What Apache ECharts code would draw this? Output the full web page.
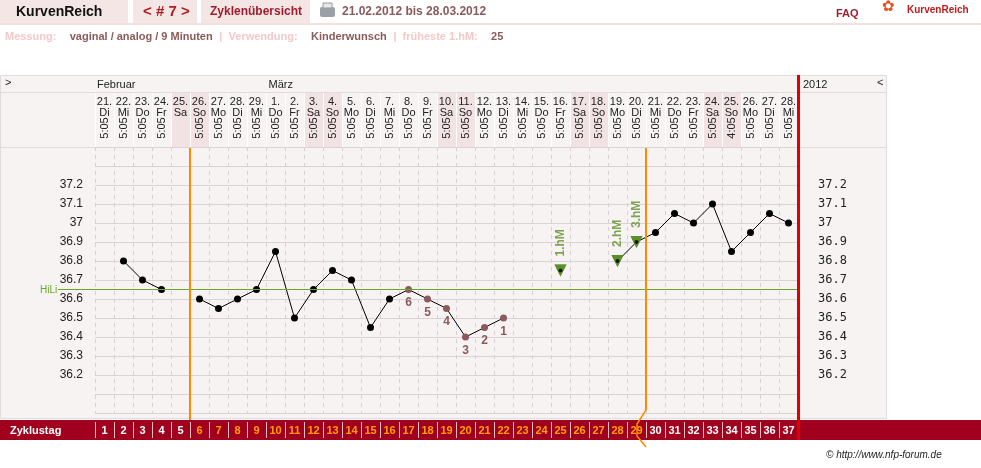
<!DOCTYPE html>
<html><head><meta charset="utf-8">
<script src="https://cdn.jsdelivr.net/npm/echarts@6/dist/echarts.min.js"></script>
<style>html,body{margin:0;padding:0;background:#fff}#c{width:981px;height:468px}</style>
</head><body><div id="c"></div>
<script>
const cycleDays = Array.from({length:37},(_,i)=>String(i+1));
const dates = ['21.','22.','23.','24.','25.','26.','27.','28.','29.','1.','2.','3.','4.','5.','6.','7.','8.','9.','10.','11.','12.','13.','14.','15.','16.','17.','18.','19.','20.','21.','22.','23.','24.','25.','26.','27.','28.'];
const weekdays = ['Di','Mi','Do','Fr','Sa','So','Mo','Di','Mi','Do','Fr','Sa','So','Mo','Di','Mi','Do','Fr','Sa','So','Mo','Di','Mi','Do','Fr','Sa','So','Mo','Di','Mi','Do','Fr','Sa','So','Mo','Di','Mi'];
const times = ['5:05','5:05','5:05','5:05','','5:05','5:05','5:05','5:05','5:05','5:05','5:05','5:05','5:05','5:05','5:05','5:05','5:05','5:05','5:05','5:05','5:05','5:05','5:05','5:05','5:05','5:05','5:05','5:05','5:05','5:05','5:05','5:05','4:05','5:05','5:05','5:05'];
const temps = [null,36.8,36.7,36.65,null,36.6,36.55,36.6,36.65,36.85,36.5,36.65,36.75,36.7,36.45,36.6,36.65,36.6,36.55,36.4,36.45,36.5,null,null,36.75,null,null,36.8,36.9,36.95,37.05,37.0,37.1,36.85,36.95,37.05,37.0];
const countLabels = {17:'6',18:'5',19:'4',20:'3',21:'2',22:'1'};
const hmLabels = {25:'1.hM',28:'2.hM',29:'3.hM'};
const yTicks = [36.2,36.3,36.4,36.5,36.6,36.7,36.8,36.9,37,37.1,37.2];
const coverline = 36.65;
const shiftDays = [6,30];

const F = 'Liberation Sans, Arial, sans-serif';
const brown = '#8b5a5a', green = '#5b8f2a';
const chart = echarts.init(document.getElementById('c'));

const mainData = temps.map((v,i)=>{
  const d = i+1;
  if (v==null) return null;
  if (countLabels[d]) return {value:v, itemStyle:{color:brown}, label:{show:true,position:'bottom',distance:4,formatter:countLabels[d],color:brown,fontWeight:'bold',fontSize:12,fontFamily:F}};
  if (hmLabels[d]) return {value:v, symbol:'triangle', symbolRotate:180, symbolSize:12, itemStyle:{color:green}};
  return v;
});
const hmData = temps.map((v,i)=> hmLabels[i+1] ? {value:v, label:{show:true,formatter:hmLabels[i+1]}} : null);
const dotData = temps.map((v,i)=> hmLabels[i+1] ? v : null);

const fmtY = v => yTicks.some(t=>Math.abs(t-v)<1e-6) ? (Math.round(v*10)/10).toString() : '';

chart.setOption({
  animation:false,
  grid:{left:95,right:183,top:147,bottom:55},
  xAxis:[{type:'category',data:cycleDays,boundaryGap:true,axisLine:{show:false},axisTick:{show:false},axisLabel:{show:false},
    splitLine:{show:true,interval:0,lineStyle:{color:'#d8d0d0',type:[4,4]}}}],
  yAxis:[
    {type:'value',min:36.0,max:37.4,interval:0.1,axisLine:{show:false},axisTick:{show:false},
     axisLabel:{formatter:fmtY,color:'#222',fontFamily:F,fontSize:12,margin:12},
     splitLine:{lineStyle:{color:'#dcd4d4'}}},
    {type:'value',position:'right',min:36.0,max:37.4,interval:0.1,axisLine:{show:false},axisTick:{show:false},
     axisLabel:{formatter:fmtY,color:'#222',fontFamily:'DejaVu Sans Mono, monospace',fontSize:12,margin:20},splitLine:{show:false}}
  ],
  series:[
    {type:'line',data:mainData,connectNulls:false,symbol:'circle',symbolSize:7,itemStyle:{color:'#000'},lineStyle:{color:'#000',width:1},z:3,
     markLine:{silent:true,symbol:'none',label:{show:false},lineStyle:{color:'#6aa62a',width:1,type:'solid'},data:[{yAxis:coverline}]}},
    {type:'scatter',data:hmData,symbol:'triangle',symbolRotate:180,symbolSize:12,itemStyle:{color:green},z:4,
     label:{position:'top',rotate:90,distance:8,color:green,fontWeight:'bold',fontSize:12,fontFamily:F,align:'left',verticalAlign:'middle'}},
    {type:'scatter',data:dotData,symbol:'circle',symbolSize:4,itemStyle:{color:'#000'},z:5}
  ]
});

function cx(i){return chart.convertToPixel({xAxisIndex:0}, i);}
const colW = cx(1)-cx(0);
const left0 = cx(0)-colW/2, rightEnd = cx(36)+colW/2;
const g = [];
// background panel
g.push({type:'rect',shape:{x:0.5,y:75.5,width:886,height:343},style:{fill:'#f8f3f3',stroke:'#ddd'},z:-10});
g.push({type:'line',shape:{x1:0,y1:92.5,x2:887,y2:92.5},style:{stroke:'#ddd'},z:-9});
g.push({type:'line',shape:{x1:0,y1:147.5,x2:887,y2:147.5},style:{stroke:'#ddd'},z:-9});
// weekends shading & header texts
for(let i=0;i<37;i++){
  const x=cx(i);
  if(weekdays[i]==='Sa'||weekdays[i]==='So') g.push({type:'rect',shape:{x:x-colW/2,y:93,width:colW,height:54},style:{fill:'#f1e2e3'},z:-8});
  g.push({type:'line',shape:{x1:x-colW/2+0.5,y1:93,x2:x-colW/2+0.5,y2:147},style:{stroke:'#fff'},z:-7});
  g.push({type:'text',x:x,y:96,style:{text:dates[i]+'\n'+weekdays[i],fill:'#222',font:'11px '+F,align:'center',lineHeight:11},z:5});
  if(times[i]) g.push({type:'text',x:x,y:128,rotation:Math.PI/2,style:{text:times[i],fill:'#222',font:'11px '+F,align:'center',verticalAlign:'middle'},z:5});
}
g.push({type:'text',x:5,y:77,style:{text:'>',fill:'#222',font:'11px '+F}});
g.push({type:'text',x:97,y:79,style:{text:'Februar',fill:'#222',font:'11px '+F}});
g.push({type:'text',x:cx(9)-7,y:79,style:{text:'März',fill:'#222',font:'11px '+F}});
g.push({type:'text',x:803,y:79,style:{text:'2012',fill:'#222',font:'11px '+F}});
g.push({type:'text',x:877,y:77,style:{text:'<',fill:'#222',font:'11px '+F}});
g.push({type:'text',x:40,y:285,style:{text:'HiLi',fill:'#6aa62a',font:'10px '+F}});
const yc = chart.convertToPixel({yAxisIndex:0}, coverline);
g.push({type:'line',shape:{x1:58,y1:yc,x2:left0,y2:yc},style:{stroke:'#6aa62a'}});
// shift lines (orange)
const xs1 = cx(shiftDays[0]-1)-colW/2, xs2 = cx(shiftDays[1]-1)-colW/2;
g.push({type:'line',shape:{x1:xs1,y1:148,x2:xs1,y2:420},style:{stroke:'#ff8a00',lineWidth:2},z:6});
g.push({type:'polyline',shape:{points:[[xs2,148],[xs2,410],[xs2-9,424],[xs2-9,436],[xs2,447]]},style:{stroke:'#ff8a00',lineWidth:1.5,fill:null},z:6});
g.push({type:'rect',shape:{x:xs2-1,y:148,width:2,height:262},style:{fill:'#ff8a00'},z:6});
// red end line
g.push({type:'rect',shape:{x:rightEnd-1,y:75,width:3,height:365},style:{fill:'#e00000'},z:7});
// Zyklustag bar
g.push({type:'rect',shape:{x:0,y:420,width:981,height:20},style:{fill:'#a0001e'},z:4});
g.push({type:'text',x:10,y:425,style:{text:'Zyklustag',fill:'#fff',font:'bold 11px '+F},z:5});
for(let i=0;i<37;i++){
  const x=cx(i), d=i+1;
  g.push({type:'line',shape:{x1:x-colW/2+0.5,y1:422,x2:x-colW/2+0.5,y2:438},style:{stroke:'#e8c0c0',lineWidth:1},z:5});
  const inner = d>=shiftDays[0] && d<shiftDays[1];
  g.push({type:'text',x:x,y:425,style:{text:cycleDays[i],fill:inner?'#ffa000':'#fff',font:'bold 11px '+F,align:'center'},z:5});
}
g.push({type:'text',x:826,y:450,style:{text:'© http://www.nfp-forum.de',fill:'#222',font:'italic 10px '+F},z:5});
// top header
g.push({type:'rect',shape:{x:0,y:0,width:128,height:23},style:{fill:'#f5e6e6'}});
g.push({type:'rect',shape:{x:133,y:0,width:64,height:23},style:{fill:'#f5e6e6'}});
g.push({type:'rect',shape:{x:201,y:0,width:109,height:23},style:{fill:'#f5e6e6'}});
g.push({type:'rect',shape:{x:0,y:23,width:981,height:2},style:{fill:'#f5e0e0'}});
g.push({type:'text',x:16,y:5,style:{text:'KurvenReich',fill:'#111',font:'bold 14px '+F}});
g.push({type:'text',x:143,y:4,style:{text:'< # 7 >',fill:'#b01c1c',font:'bold 15px '+F}});
g.push({type:'text',x:210,y:6,style:{text:'Zyklenübersicht',fill:'#a01c2c',font:'bold 12px '+F}});
g.push({type:'rect',shape:{x:320,y:7,width:15,height:10,r:2},style:{fill:'#9aa0a8'}});
g.push({type:'rect',shape:{x:323,y:3,width:9,height:5},style:{fill:'#e8e8e8',stroke:'#999'}});
g.push({type:'text',x:342,y:6,style:{text:'21.02.2012 bis 28.03.2012',fill:'#8b5a5a',font:'bold 12px '+F}});
g.push({type:'text',x:836,y:8,style:{text:'FAQ',fill:'#a01c2c',font:'bold 11px '+F}});
g.push({type:'text',x:882,y:0,style:{text:'✿',fill:'#e05020',font:'15px DejaVu Sans'}});
g.push({type:'text',x:907,y:5,style:{text:'KurvenReich',fill:'#c01c1c',font:'bold 10px '+F}});
g.push({type:'text',x:5,y:31,style:{rich:{a:{fill:'#f5c8c8',font:'bold 11px '+F},b:{fill:'#8b5a5a',font:'bold 11px '+F}},
  text:'{a|Messung:}    {b|vaginal / analog / 9 Minuten}  {a||  Verwendung:}    {b|Kinderwunsch}  {a||  früheste 1.hM:}    {b|25}'}});
chart.setOption({graphic:g});
</script></body></html>
